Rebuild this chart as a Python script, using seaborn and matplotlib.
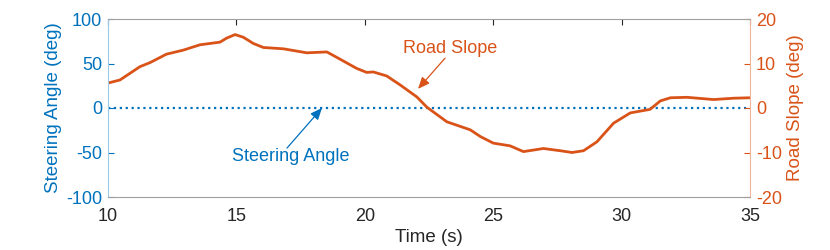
import seaborn as sns
import matplotlib.pyplot as plt
import pandas as pd
import numpy as np

# road slope trace
time_s = [10.0, 10.47, 11.25, 11.64, 12.28, 12.93, 13.58, 14.36, 14.62, 14.95,
          15.27, 15.66, 16.05, 16.83, 17.74, 18.52, 18.9, 19.68, 20.07, 20.33,
          20.85, 21.37, 22.02, 22.41, 23.19, 24.1, 24.49, 25.0, 25.65, 26.17,
          26.95, 27.6, 28.06, 28.51, 29.03, 29.68, 30.33, 31.1, 31.5, 31.89,
          32.54, 33.57, 34.35, 35.0]
road_slope = [5.6, 6.3, 9.3, 10.2, 12.1, 13.0, 14.2, 14.8, 15.7, 16.5,
              15.9, 14.5, 13.6, 13.3, 12.4, 12.6, 11.4, 8.9, 8.0, 8.1,
              7.2, 5.2, 2.5, 0.2, -3.1, -4.9, -6.4, -7.9, -8.5, -9.8,
              -9.1, -9.6, -10.0, -9.6, -7.6, -3.4, -1.1, -0.3, 1.6, 2.3,
              2.4, 1.9, 2.2, 2.3]
steer_time = [10.0, 35.0]
steer_angle = [0.0, 0.0]

blue = '#0072BD'
orange = '#D95319'

sns.set_style('white')
plt.rcParams['font.family'] = ['Liberation Sans', 'DejaVu Sans']
plt.rcParams['axes.unicode_minus'] = False

fig, ax = plt.subplots(figsize=(8.3, 2.5), dpi=100)
fig.subplots_adjust(left=0.13, right=0.904, top=0.924, bottom=0.212)

sns.lineplot(x=steer_time, y=steer_angle, ax=ax, color=blue, linestyle=':', linewidth=1.6)
ax.set_xlim(10, 35)
ax.set_ylim(-100, 100)
ax.set_yticks([-100, -50, 0, 50, 100])
ax.set_xticks([10, 15, 20, 25, 30, 35])
ax.set_xlabel('Time (s)', fontsize=13.5, color='#262626', labelpad=3)
ax.set_ylabel('Steering Angle (deg)', fontsize=13.5, color=blue, labelpad=3)
ax.tick_params(axis='y', colors=blue, labelsize=13, direction='in', length=4, pad=4)
ax.tick_params(axis='x', colors='#262626', labelsize=13, direction='in', length=4, top=True, pad=8)

ax2 = ax.twinx()
sns.lineplot(x=time_s, y=road_slope, ax=ax2, color=orange, linewidth=2)
ax2.set_ylim(-20, 20)
ax2.set_yticks([-20, -10, 0, 10, 20])
ax2.set_ylabel('Road Slope (deg)', fontsize=13.5, color=orange, labelpad=4)
ax2.tick_params(axis='y', colors=orange, labelsize=13, direction='in', length=4, pad=4)

ax2.spines['left'].set_color('#9cc9e8')
ax2.spines['right'].set_color('#f0b49a')
ax2.spines['top'].set_color('#a0a0a0')
ax2.spines['bottom'].set_color('#a0a0a0')
for s in ax.spines.values():
    s.set_visible(False)

arrow_kw = dict(arrowstyle='-|>,head_length=0.7,head_width=0.3', lw=0.9, shrinkA=0, shrinkB=0)

ax2.text(23.3, 13.3, 'Road Slope', ha='center', va='center', fontsize=13, color=orange)
ax2.annotate('', xy=(22.07, 4.3), xytext=(23.12, 11.2),
             arrowprops=dict(color=orange, **arrow_kw))
ax.text(17.1, -55, 'Steering Angle', ha='center', va='center', fontsize=13, color=blue)
ax.annotate('', xy=(18.33, 0), xytext=(16.97, -45),
            arrowprops=dict(color=blue, **arrow_kw))

fig.savefig('out.png', dpi=100)
